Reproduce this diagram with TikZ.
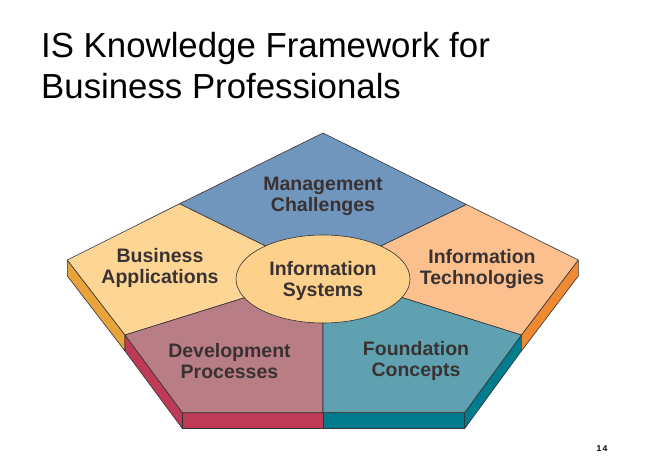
\documentclass[tikz,border=0pt]{standalone}
\usepackage{fontspec}
\setmainfont{Liberation Sans}
\usetikzlibrary{calc,shapes.geometric}
\definecolor{cBlue}{RGB}{112,150,190}
\definecolor{cBiz}{RGB}{253,213,148}
\definecolor{cTech}{RGB}{251,192,142}
\definecolor{cEll}{RGB}{253,208,140}
\definecolor{cDev}{RGB}{185,125,134}
\definecolor{cFound}{RGB}{95,161,176}
\definecolor{sLeftO}{RGB}{232,163,58}
\definecolor{sRightO}{RGB}{240,138,50}
\definecolor{sRed}{RGB}{190,58,86}
\definecolor{sTeal}{RGB}{0,124,142}
\definecolor{txt}{RGB}{58,50,50}
\begin{document}
\begin{tikzpicture}[x=1pt,y=-1pt,
  face/.style={draw=black!80,line width=0.6pt,line join=round},
  lbl/.style={font=\fontsize{19.5}{21}\selectfont\bfseries,text=txt,align=center,inner sep=0pt},
  ttl/.style={font=\fontsize{34.8}{41.7}\selectfont,anchor=base west,inner sep=0pt}]
\useasboundingbox (0,0) rectangle (648,468);
% key points
\coordinate (T) at (323,133);
\coordinate (L) at (67.3,260);
\coordinate (R) at (578.3,260);
\coordinate (LS) at (125,335);
\coordinate (RS) at (521.4,335);
\coordinate (BL) at (182.5,412.7);
\coordinate (BR) at (464.6,412.7);
\coordinate (BM) at (323,412.7);
\coordinate (TLs) at (179.5,203.8);
\coordinate (TRs) at (466.5,204.5);
\coordinate (C) at (323,279);
\coordinate (E1) at (266.8,246.7);
\coordinate (E2) at (380,246.5);
\coordinate (E3) at (242.7,298.3);
\coordinate (E4) at (404.4,298.3);
% side strips
\path[fill=sLeftO,face] (L) -- (LS) -- ($(LS)+(0,16)$) -- ($(L)+(0,16)$) -- cycle;
\path[fill=sRed,face] (LS) -- (BL) -- ($(BL)+(0,16)$) -- ($(LS)+(0,16)$) -- cycle;
\path[fill=sRed,face] (BL) -- (BM) -- ($(BM)+(0,16)$) -- ($(BL)+(0,16)$) -- cycle;
\path[fill=sTeal,face] (BM) -- (BR) -- ($(BR)+(0,16)$) -- ($(BM)+(0,16)$) -- cycle;
\path[fill=sTeal,face] (BR) -- (RS) -- ($(RS)+(0,16)$) -- ($(BR)+(0,16)$) -- cycle;
\path[fill=sRightO,face] (RS) -- (R) -- ($(R)+(0,16)$) -- ($(RS)+(0,16)$) -- cycle;
% top faces
\path[fill=cBlue,face] (T) -- (TRs) -- (E2) -- (C) -- (E1) -- (TLs) -- cycle;
\path[fill=cBiz,face] (L) -- (TLs) -- (E1) -- (C) -- (E3) -- (LS) -- cycle;
\path[fill=cTech,face] (R) -- (TRs) -- (E2) -- (C) -- (E4) -- (RS) -- cycle;
\path[fill=cDev,face] (LS) -- (E3) -- (C) -- (BM) -- (BL) -- cycle;
\path[fill=cFound,face] (RS) -- (E4) -- (C) -- (BM) -- (BR) -- cycle;
% centre ellipse
\node[ellipse,fill=cEll,face,minimum width=174pt,minimum height=88pt,inner sep=0pt] (is) at (C) {};
% labels
\node[lbl] (mc) at (323,196) {Management\\Challenges};
\node[lbl] (ba) at (160,268) {Business\\Applications};
\node[lbl] (it) at (482,269) {Information\\Technologies};
\node[lbl] (isy) at (323,281) {Information\\Systems};
\node[lbl] (dp) at (229.5,361) {Development\\Processes};
\node[lbl] (fc) at (416,361) {Foundation\\Concepts};
% title
\node[ttl] (t1) at (41,57.3) {IS Knowledge Framework for};
\node[ttl] (t2) at (41,99) {Business Professionals};
\node[font=\fontsize{8.5}{10}\selectfont\bfseries,inner sep=0pt] (pg) at (602,449) {1\,4};
\end{tikzpicture}
\end{document}
